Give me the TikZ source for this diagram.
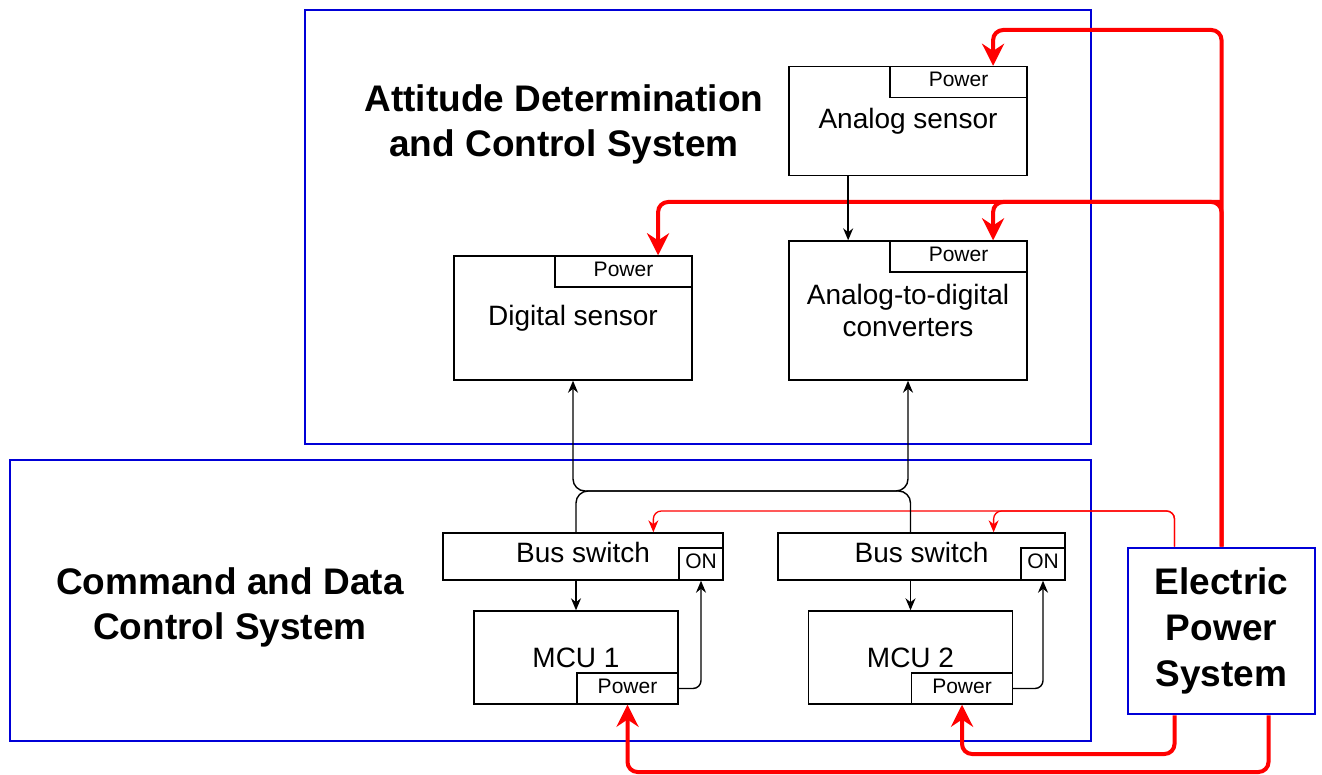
\documentclass[tikz,border=0pt]{standalone}
\usepackage{fontspec}
\setmainfont{Liberation Sans}
\usetikzlibrary{positioning,calc,arrows.meta}

\definecolor{sysblue}{RGB}{0,0,215}

\tikzset{
  unit/.style={draw,line width=1.4pt,inner sep=0pt,align=center,font=\fontsize{28}{32}\selectfont},
  pwr/.style={draw,line width=1.4pt,inner sep=0pt,text depth=5pt,font=\fontsize{21}{24}\selectfont},
  sysline/.style={draw=sysblue,line width=2.8pt},
  syslabel/.style={align=center,font=\fontsize{37}{45}\selectfont\bfseries},
  power/.style={draw=red,line width=4pt,rounded corners=10pt,-{Stealth[length=22pt,width=22pt]}},
  ctrl/.style={draw=red,line width=1.3pt,rounded corners=8pt,->},
  sig/.style={line width=1.4pt,->},
}

\begin{document}
\begin{tikzpicture}[x=1pt,y=-1pt,>={Stealth[length=12pt,width=10pt]}]
    \useasboundingbox (0,0) rectangle (1322,775);

    % subsystems
    \draw[sysline] (305,10) rectangle (1091,444);
    \draw[sysline] (10,460) rectangle (1091,741);
    \node[syslabel] (adcslbl) at (564,124) {Attitude Determination\\and Control System};
    \node[syslabel] (cdcslbl) at (230,607) {Command and Data\\Control System};
    \node[syslabel,draw=sysblue,line width=2.8pt,minimum width=187pt,minimum height=166pt,inner sep=0pt,
          font=\fontsize{37}{46}\selectfont\bfseries] (eps) at (1221.5,631) {Electric\\Power\\System};

    % ADCS units
    \node[unit,minimum width=238pt,minimum height=109pt] (analog) at (908,121) {Analog sensor};
    \node[unit,minimum width=238pt,minimum height=124pt] (digital) at (573,318) {Digital sensor};
    \node[unit,minimum width=238pt,minimum height=139pt] (adc) at (908,310.5) {Analog-to-digital\\converters};
    \node[pwr,minimum width=137pt,minimum height=31pt,anchor=north east] (anpow) at (analog.north east) {Power};
    \node[pwr,minimum width=137pt,minimum height=31pt,anchor=north east] (dgpow) at (digital.north east) {Power};
    \node[pwr,minimum width=137pt,minimum height=31pt,anchor=north east] (adpow) at (adc.north east) {Power};

    % CDCS units
    \node[unit,minimum width=280pt,minimum height=47pt,text depth=9pt] (bus1) at (583,556.5) {Bus switch};
    \node[unit,minimum width=287pt,minimum height=47pt,text depth=9pt] (bus2) at (921.5,556.5) {Bus switch};
    \node[pwr,minimum width=44pt,minimum height=32pt,anchor=south east] (on1) at (bus1.south east) {ON};
    \node[pwr,minimum width=44pt,minimum height=32pt,anchor=south east] (on2) at (bus2.south east) {ON};
    \node[unit,minimum width=204pt,minimum height=93pt] (mcu1) at (576,657.5) {MCU 1};
    \node[unit,minimum width=204pt,minimum height=93pt] (mcu2) at (910.5,657.5) {MCU 2};
    \node[pwr,minimum width=101pt,minimum height=31pt,anchor=south east] (m1pow) at (mcu1.south east) {Power};
    \node[pwr,minimum width=101pt,minimum height=31pt,anchor=south east] (m2pow) at (mcu2.south east) {Power};

    % rails and inlets
    \coordinate (toprail) at (0,30);
    \coordinate (midrail) at (0,202);
    \coordinate (busrail) at (0,491);
    \coordinate (swrail) at (0,511);
    \coordinate (lowrail) at (0,754);
    \coordinate (botrail) at (0,772);
    \coordinate (anin) at ($(anpow.north west)!0.75!(anpow.north east)$);
    \coordinate (dgin) at ($(dgpow.north west)!0.75!(dgpow.north east)$);
    \coordinate (adin) at ($(adpow.north west)!0.75!(adpow.north east)$);
    \coordinate (b1in) at ($(bus1.north west)!0.75!(bus1.north east)$);
    \coordinate (b2in) at ($(bus2.north west)!0.75!(bus2.north east)$);
    \coordinate (anout) at ($(analog.south west)!0.25!(analog.south east)$);

    % power supply
    \draw[power] (eps.north) |- (anin |- toprail) -- (anin);
    \draw[power] (eps.north) |- (dgin |- midrail) -- (dgin);
    \draw[power] (eps.north |- midrail) -| (adin);
    \draw[power] ([xshift=-47pt]eps.south) |- (m2pow.south |- lowrail) -- (m2pow.south);
    \draw[power] ([xshift=47pt]eps.south) |- (m1pow.south |- botrail) -- (m1pow.south);
    \draw[ctrl] ([xshift=-47pt]eps.north) |- (b1in |- swrail) -- (b1in);
    \draw[ctrl] ([xshift=-47pt]eps.north) |- (b2in |- swrail) -- (b2in);

    % data lines
    \draw[sig] (anout) -- (anout |- adc.north);
    \draw[sig,rounded corners=12pt] (mcu1.north |- bus1.north) |- (adc.south |- busrail) -- (adc.south);
    \draw[sig,rounded corners=12pt] (mcu2.north |- bus2.north) |- (digital.south |- busrail) -- (digital.south);
    \draw[sig] (mcu1.north |- bus1.south) -- (mcu1.north);
    \draw[sig] (mcu2.north |- bus2.south) -- (mcu2.north);
    \draw[sig,rounded corners=8pt] (m1pow.east) -| (on1.south);
    \draw[sig,rounded corners=8pt] (m2pow.east) -| (on2.south);
\end{tikzpicture}
\end{document}
